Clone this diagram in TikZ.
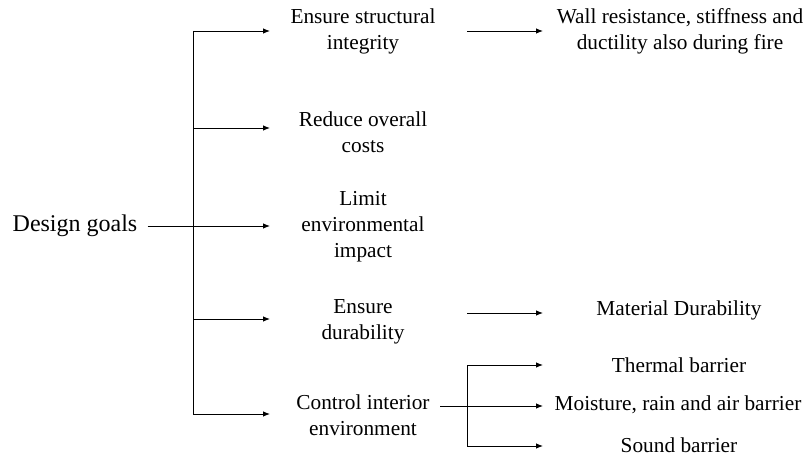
\documentclass[tikz,border=0pt]{standalone}
\usepackage{fontspec}
\setmainfont{Liberation Serif}
\usetikzlibrary{arrows.meta}
\tikzset{
  arr/.style={line width=0.9pt,-{Latex[length=7pt,width=5.5pt]}},
  ln/.style={line width=0.9pt},
  lvl/.style={align=center,inner sep=0pt,font=\fontsize{21.3}{26}\selectfont},
  rgt/.style={align=center,inner sep=0pt,font=\fontsize{21.3}{26}\selectfont},
}
\begin{document}
\begin{tikzpicture}[x=1pt,y=-1pt]
\useasboundingbox (0,0) rectangle (811,457);
% root
\node[inner sep=0pt,inner xsep=10pt,font=\fontsize{24}{28}\selectfont] (dg) at (75,226) {Design goals};
% level 1
\node[lvl] (l1) at (363,31) {Ensure structural\\integrity};
\node[lvl] (l2) at (363,132) {Reduce overall\\costs};
\node[lvl] (l3) at (363,227) {Limit\\environmental\\impact};
\node[lvl] (l4) at (363,322) {Ensure\\durability};
\node[lvl] (l5) at (363,415) {Control interior\\environment};
% right column
\node[rgt] (r1) at (680,31) {Wall resistance, stiffness and\\ductility also during fire};
\node[rgt] (r2) at (679,310) {Material Durability};
\node[rgt] (r3) at (679,365) {Thermal barrier};
\node[rgt] (r4) at (678,405) {Moisture, rain and air barrier};
\node[rgt] (r5) at (679,445) {Sound barrier};
% junctions
\coordinate (j1) at (193,31);
\coordinate (j2) at (193,128);
\coordinate (j3) at (193,226);
\coordinate (j4) at (193,319);
\coordinate (j5) at (193,414);
\coordinate (t1) at (270,31);
\coordinate (t2) at (270,128);
\coordinate (t3) at (270,226);
\coordinate (t4) at (270,319);
\coordinate (t5) at (270,414);
\coordinate (s1) at (467,31);
\coordinate (e1) at (543,31);
\coordinate (s2) at (467,313);
\coordinate (e2) at (543,313);
\coordinate (s5) at (440,406);
\coordinate (k3) at (467,365);
\coordinate (k5) at (467,446);
\coordinate (e3) at (543,365);
\coordinate (e4) at (543,406);
\coordinate (e5) at (543,446);
% connectors
\draw[ln] (j1) -- (j5);
\draw[arr] (dg.east) -- (t3);
\draw[arr] (j1) -- (t1);
\draw[arr] (j2) -- (t2);
\draw[arr] (j4) -- (t4);
\draw[arr] (j5) -- (t5);
\draw[arr] (s1) -- (e1);
\draw[arr] (s2) -- (e2);
\draw[ln] (k3) -- (k5);
\draw[arr] (s5) -- (e4);
\draw[arr] (k3) -- (e3);
\draw[arr] (k5) -- (e5);
\end{tikzpicture}
\end{document}
